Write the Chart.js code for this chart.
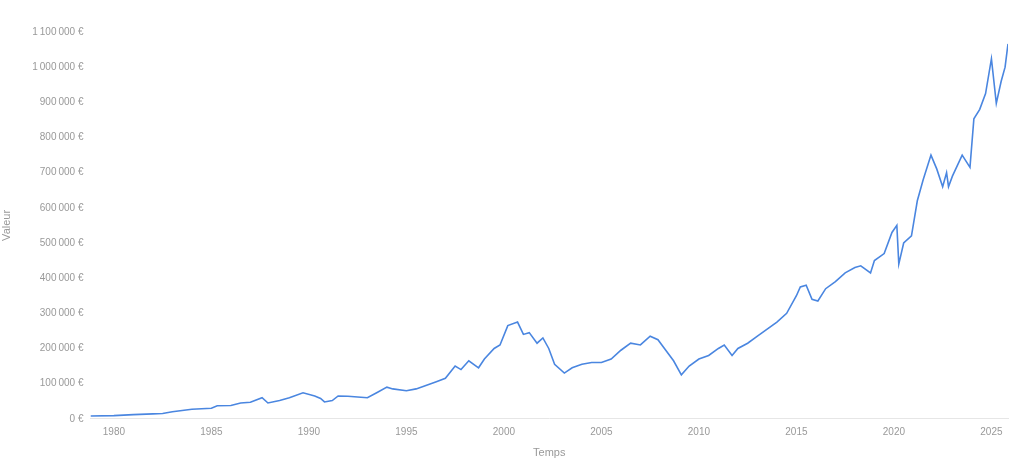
<!DOCTYPE html>
<html><head><meta charset="utf-8">
<script src="https://cdn.jsdelivr.net/npm/chart.js@4"></script>
<style>html,body{margin:0;background:#fff}#w{width:1024px;height:469px}</style>
</head><body><div id="w"><canvas id="c"></canvas></div>
<script>
const years=[1978.8,1980,1981,1982,1982.5,1983,1984,1985,1985.3,1986,1986.5,1987,1987.6,1987.9,1988.5,1989,1989.7,1990.3,1990.6,1990.8,1991.2,1991.5,1992,1992.5,1993,1993.5,1994,1994.3,1995,1995.5,1996,1996.5,1997,1997.5,1997.8,1998.2,1998.7,1999,1999.5,1999.8,2000.2,2000.7,2001,2001.3,2001.7,2002,2002.3,2002.6,2003.1,2003.5,2004,2004.5,2005,2005.5,2006,2006.5,2007,2007.5,2007.9,2008.3,2008.7,2009.1,2009.5,2010,2010.5,2011,2011.3,2011.7,2012,2012.5,2013,2013.5,2014,2014.5,2015,2015.2,2015.5,2015.8,2016.1,2016.5,2017,2017.5,2018,2018.3,2018.8,2019,2019.5,2019.9,2020.15,2020.25,2020.5,2020.9,2021.2,2021.5,2021.9,2022.2,2022.5,2022.7,2022.8,2023,2023.5,2023.9,2024.1,2024.4,2024.7,2025.0,2025.25,2025.5,2025.7,2025.85];
const values=[8,9,12,14,15,20,27,30,37,38,45,47,60,45,52,60,74,65,58,48,52,65,64,62,60,75,90,85,80,85,95,105,115,150,140,165,145,170,200,210,265,275,240,245,215,230,200,155,130,145,155,160,160,170,195,215,210,235,225,195,165,125,150,170,180,200,210,180,200,215,235,255,275,300,350,375,380,340,335,370,390,415,430,435,415,450,470,530,550,440,500,520,620,680,750,710,660,700,660,690,750,715,853,880,925,1024,897,960,1000,1066];
const yTicks=[0,100000,200000,300000,400000,500000,600000,700000,800000,900000,1000000,1100000];
const xTicks=[1980,1985,1990,1995,2000,2005,2010,2015,2020,2025];
const fmt=v=>v.toLocaleString('fr-FR').replace(/[\u202f\u00a0]/g,'\u2009')+' €';
new Chart(document.getElementById('c'),{type:'line',
data:{datasets:[{data:years.map((y,i)=>({x:y,y:values[i]*1000})),borderColor:'#4a86e0',borderWidth:1.6,pointRadius:0,tension:0}]},
options:{responsive:true,maintainAspectRatio:false,animation:false,
layout:{padding:{top:32,right:16,left:0,bottom:5}},
plugins:{legend:{display:false},tooltip:{enabled:false}},
scales:{
x:{type:'linear',min:1978.8,max:2025.85,afterBuildTicks:a=>{a.ticks=xTicks.map(v=>({value:v}))},
grid:{display:false,drawTicks:false},border:{color:'#e6e6e6'},
ticks:{color:'#999',font:{size:10,family:'Helvetica, Arial, Liberation Sans'},padding:7,callback:v=>String(v)},
title:{display:true,text:'Temps',color:'#999',font:{size:11},padding:{top:2}}},
y:{min:0,max:1100000,afterBuildTicks:a=>{a.ticks=yTicks.map(v=>({value:v}))},
grid:{display:false,drawTicks:true,tickLength:4,tickColor:'#ddd'},border:{display:false},
ticks:{color:'#999',font:{size:10,family:'Helvetica, Arial, Liberation Sans'},padding:3,callback:v=>fmt(v)},
title:{display:true,text:'Valeur',color:'#999',font:{size:11},padding:{top:0,bottom:16}}}}}});
</script></body></html>
